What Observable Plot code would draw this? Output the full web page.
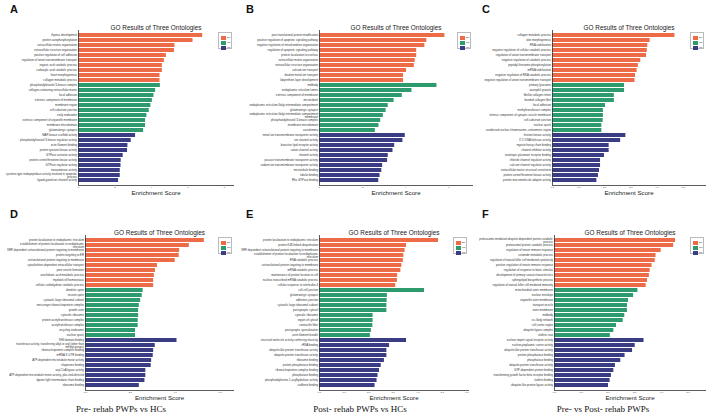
<!DOCTYPE html>
<html><head><meta charset="utf-8">
<script src="https://cdn.jsdelivr.net/npm/d3@7"></script>
<script src="https://cdn.jsdelivr.net/npm/@observablehq/plot@0.6"></script>
<style>
body{margin:0;background:#fff;}
#chart{position:relative;width:708px;height:416px;overflow:hidden;font-family:"Liberation Sans",Arial,sans-serif;background:#fff;}
.panel{position:absolute;}
.letter{position:absolute;font-weight:bold;font-size:11px;line-height:11px;color:#111;}
.legend{position:absolute;border:0.6px solid #bbb;width:14px;height:17px;background:#fff;box-sizing:border-box;}
.sw{position:absolute;left:2px;width:5px;height:4px;}
.lt{position:absolute;left:8px;font-size:2.5px;line-height:4px;color:#333;}
.caption{position:absolute;font-family:"Liberation Serif","Times New Roman",serif;font-size:9px;line-height:9px;color:#111;white-space:nowrap;transform:translateX(-50%);}
</style></head><body><div id="chart"></div>
<script>
const ontologies = ["BP", "CC", "MF"];
const ontologyColors = ["#EE6B47", "#2E9B6F", "#3A3C84"];
const termsPerOntology = 10;

const termsA = ["thymus development","protein autophosphorylation","extracellular matrix organization","extracellular structure organization","positive regulation of cell adhesion","regulation of anion transmembrane transport","organic acid catabolic process","carboxylic acid catabolic process","heart morphogenesis","collagen metabolic process",
"phosphatidylinositol 3-kinase complex","collagen-containing extracellular matrix","focal adhesion","extrinsic component of membrane","membrane region","cell-substrate junction","early endosome","extrinsic component of organelle membrane","membrane microdomain","glutamatergic synapse",
"MAP-kinase scaffold activity","phosphatidylinositol 3-kinase regulator activity","actin filament binding","protein tyrosine kinase activity","GTPase activator activity","protein serine/threonine kinase activity","GTPase regulator activity","transaminase activity","cysteine-type endopeptidase activity involved in apoptotic process","ligand-gated ion channel activity"];
const scoresA = [6.81,6.28,5.29,5.26,4.82,4.71,4.60,4.60,4.47,4.47, 4.49,4.23,4.14,4.05,3.97,3.88,3.75,3.68,3.68,3.57, 3.13,2.89,2.71,2.69,2.45,2.34,2.33,2.29,2.29,2.20];

const termsB = ["post-translational protein modification","positive regulation of apoptotic signaling pathway","negative regulation of mitochondrion organization","regulation of apoptotic signaling pathway","protein localization to nucleus","extracellular matrix organization","extracellular structure organization","calcium ion transport","divalent metal ion transport","labyrinthine layer development",
"midbody","endoplasmic reticulum lumen","extrinsic component of membrane","microtubule","endoplasmic reticulum-Golgi intermediate compartment","glutamatergic synapse","endoplasmic reticulum-Golgi intermediate compartment membrane","phosphatidylinositol 3-kinase complex","membrane microdomain","sarcolemma",
"metal ion transmembrane transporter activity","ion channel activity","bioactive lipid receptor activity","cation channel activity","channel activity","passive transmembrane transporter activity","sodium ion transmembrane transporter activity","microtubule binding","tubulin binding","Rho GTPase binding"];
const scoresB = [5.82,4.98,4.89,4.51,4.51,4.44,4.40,4.04,3.90,3.90, 5.45,4.29,3.84,3.46,3.19,3.09,2.96,2.84,2.76,2.59, 3.98,3.87,3.49,3.41,3.19,3.16,2.93,2.89,2.81,2.75];

const termsC = ["collagen metabolic process","skin morphogenesis","RNA stabilization","negative regulation of cellular catabolic process","regulation of anion transmembrane transport","negative regulation of catabolic process","peptidyl-threonine phosphorylation","mRNA stabilization","negative regulation of RNA catabolic process","negative regulation of anion transmembrane transport",
"primary lysosome","azurophil granule","fibrillar collagen trimer","banded collagen fibril","focal adhesion","methyltransferase complex","intrinsic component of synaptic vesicle membrane","cell-substrate junction","nuclear speck","condensed nuclear chromosome, centromeric region",
"histone kinase activity","3'-5' DNA helicase activity","myosin heavy chain binding","channel inhibitor activity","ionotropic glutamate receptor binding","chloride channel regulator activity","calcium channel regulator activity","extracellular matrix structural constituent","protein serine/threonine kinase activity","protein macromolecule adaptor activity"];
const scoresC = [4.69,3.74,3.65,3.63,3.60,3.38,3.29,3.24,3.18,3.16, 2.76,2.76,2.37,2.37,2.03,1.95,1.95,1.94,1.89,1.89, 2.81,2.61,2.17,2.17,1.99,1.84,1.84,1.80,1.76,1.70];

const termsD = ["protein localization to endoplasmic reticulum","establishment of protein localization to endoplasmic reticulum","SRP-dependent cotranslational protein targeting to membrane","protein targeting to ER","cotranslational protein targeting to membrane","cytoskeleton-dependent intracellular transport","pore vesicle formation","arachidonic acid metabolic process","myeloid cell homeostasis","cellular carbohydrate catabolic process",
"dendritic spine","neuron spine","cytosolic large ribosomal subunit","messenger ribonucleoprotein complex","growth cone","cytosolic ribosome","protein acetyltransferase complex","acetyltransferase complex","recycling endosome","nuclear speck",
"SH3 domain binding","transferase activity, transferring alkyl or aryl (other than methyl groups)","ribonucleoprotein complex binding","mRNA 3'-UTR binding","ATP-dependent microtubule motor activity","chaperone binding","acyl-CoA ligase activity","ATP-dependent microtubule motor activity, plus-end-directed","dynein light intermediate chain binding","ribosome binding"];
const scoresD = [5.30,4.63,4.20,4.18,4.00,3.21,3.12,3.07,3.04,3.04, 2.57,2.53,2.46,2.40,2.37,2.37,2.35,2.35,2.23,2.23, 4.08,3.11,3.04,3.02,2.95,2.93,2.69,2.69,2.65,2.40];

const termsE = ["protein localization to endoplasmic reticulum","protein K48-linked ubiquitination","SRP-dependent cotranslational protein targeting to membrane","establishment of protein localization to endoplasmic reticulum","RNA catabolic process","cotranslational protein targeting to membrane","mRNA catabolic process","maintenance of protein location in cell","nuclear-transcribed mRNA catabolic process","cellular response to interleukin-4",
"cell-cell junction","glutamatergic synapse","adherens junction","cytosolic large ribosomal subunit","postsynaptic cytosol","cytosolic ribosome","region of cytosol","contractile fiber","postsynaptic specialization","actin filament bundle",
"structural molecule activity conferring elasticity","rRNA binding","ubiquitin-like protein transferase activity","ubiquitin-protein transferase activity","ribosome binding","protein phosphatase binding","ribonucleoprotein complex binding","phosphatase binding","phosphatidylserine 1-acylhydrolase activity","cadherin binding"];
const scoresE = [4.84,3.54,3.48,3.43,3.41,3.35,3.31,3.18,3.17,3.10, 4.27,2.76,2.75,2.74,2.74,2.18,2.18,2.17,2.11,2.07, 3.54,2.85,2.74,2.74,2.64,2.51,2.44,2.38,2.34,2.26];

const termsF = ["proteasome-mediated ubiquitin-dependent protein catabolic process","proteasomal protein catabolic process","regulation of innate immune response","ceramide metabolic process","regulation of natural killer cell mediated cytotoxicity","positive regulation of innate immune response","regulation of response to biotic stimulus","development of primary sexual characteristics","sphingolipid biosynthetic process","regulation of natural killer cell mediated immunity",
"mitochondrial outer membrane","nuclear envelope","organelle outer membrane","transport vesicle","outer membrane","midbody","cis-Golgi network","cell cortex region","ubiquitin ligase complex","clathrin coat",
"nuclear import signal receptor activity","nucleocytoplasmic carrier activity","ubiquitin-like protein transferase activity","protein phosphatase binding","phosphatase binding","ubiquitin-protein transferase activity","GTP-dependent protein binding","transforming growth factor beta receptor binding","clathrin binding","ubiquitin-like protein ligase activity"];
const scoresF = [4.53,4.46,3.99,3.80,3.77,3.65,3.58,3.55,3.48,3.43, 3.12,2.96,2.77,2.73,2.73,2.63,2.57,2.32,2.22,2.09, 3.35,3.02,2.92,2.64,2.48,2.28,2.22,2.13,2.08,2.02];

const panelLetters = ["A","B","C","D","E","F"];
const xTicksA = [0,2,4,6,8], xTicksB = [0,2,4,6], xTicksC = [0,1,2,3,4,5];
const xTicksD = [0,2,4,6], xTicksE = [0,1,2,3,4,5,6], xTicksF = [0,1,2,3,4,5];
const chartTitle = "GO Results of Three Ontologies";
const axisTitle = "Enrichment Score";
const captions = ["Pre- rehab PWPs vs HCs", "Post- rehab PWPs vs HCs", "Pre- vs Post- rehab PWPs"];

const panels = [
  {terms: termsA, scores: scoresA, ticks: xTicksA, left: 0,   top: 0,   ml: 78, mr: 3, xmax: 8.5},
  {terms: termsB, scores: scoresB, ticks: xTicksB, left: 236, top: 0,   ml: 83, mr: 0, xmax: 7.1},
  {terms: termsC, scores: scoresC, ticks: xTicksC, left: 472, top: 0,   ml: 80, mr: 3, xmax: 5.86},
  {terms: termsD, scores: scoresD, ticks: xTicksD, left: 0,   top: 205, ml: 85, mr: 3, xmax: 6.6},
  {terms: termsE, scores: scoresE, ticks: xTicksE, left: 236, top: 205, ml: 83, mr: 4, xmax: 6.06},
  {terms: termsF, scores: scoresF, ticks: xTicksF, left: 472, top: 205, ml: 82, mr: 3, xmax: 5.65}
];

function wrap(s, max = 60) {
  const words = s.split(" "); const lines = []; let cur = "";
  for (const w of words) {
    if (cur && (cur + " " + w).length > max) { lines.push(cur); cur = w; }
    else cur = cur ? cur + " " + w : w;
  }
  lines.push(cur);
  return lines.join("\n");
}

const chart = document.getElementById("chart");
const overlays = [];
panels.forEach((p, k) => {
  const rows = p.terms.map((t, i) => ({term: t, score: p.scores[i], ont: ontologies[Math.floor(i / termsPerOntology)]}));
  const W = 236;
  const svg = Plot.plot({
    width: W, height: 200,
    marginLeft: p.ml, marginRight: p.mr, marginTop: 30, marginBottom: 15,
    style: {fontFamily: "'Liberation Sans', Arial, sans-serif", background: "transparent", overflow: "visible"},
    x: {domain: [0, p.xmax]},
    y: {domain: p.terms, padding: 0.2},
    color: {domain: ontologies, range: ontologyColors},
    marks: [
      Plot.barX(rows, {x: "score", y: "term", fill: "ont"}),
      Plot.ruleX([0], {stroke: "#333", strokeWidth: 0.8}),
      Plot.frame({anchor: "bottom", stroke: "#333", strokeWidth: 0.8}),
      Plot.axisY({tickSize: 0, tickPadding: 1.5, fontSize: 2.8, label: null, color: "#333", tickFormat: d => wrap(d)}),
      Plot.axisX({ticks: p.ticks, tickSize: 0, tickPadding: 1.2, fontSize: 2.4, label: null, color: "#333"}),
      Plot.text([chartTitle], {frameAnchor: "top", dy: -5, fontSize: 6.4, fill: "#222"}),
      Plot.text([axisTitle], {frameAnchor: "bottom", dy: 9.4, fontSize: 6.2, fill: "#222"})
    ]
  });
  svg.classList.add("panel");
  svg.style.left = p.left + "px";
  svg.style.top = p.top + "px";
  chart.appendChild(svg);

  const letter = document.createElement("div");
  letter.className = "letter";
  letter.textContent = panelLetters[k];
  letter.style.left = (p.left + 10) + "px";
  letter.style.top = (p.top + 4) + "px";
  overlays.push(letter);

  const lg = document.createElement("div");
  lg.className = "legend";
  lg.style.left = (p.left + W - p.mr - 15) + "px";
  lg.style.top = (p.top + 32) + "px";
  ontologies.forEach((o, j) => {
    const sw = document.createElement("div");
    sw.className = "sw"; sw.style.top = (2.5 + j * 5) + "px"; sw.style.background = ontologyColors[j];
    const lt = document.createElement("div");
    lt.className = "lt"; lt.style.top = (2.5 + j * 5) + "px"; lt.textContent = o;
    lg.appendChild(sw); lg.appendChild(lt);
  });
  overlays.push(lg);
});
overlays.forEach(el => chart.appendChild(el));
const capX = [121, 360, 603];
captions.forEach((c, i) => {
  const el = document.createElement("div");
  el.className = "caption"; el.textContent = c;
  el.style.left = capX[i] + "px"; el.style.top = "405px";
  chart.appendChild(el);
});
</script></body></html>
